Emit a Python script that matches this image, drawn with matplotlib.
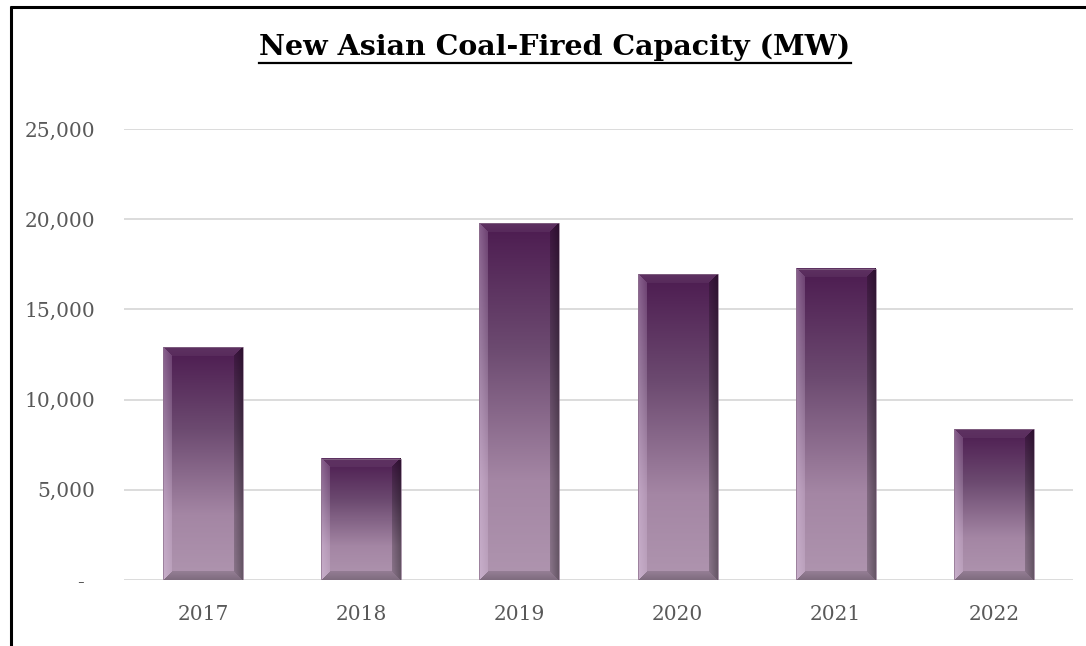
import numpy as np
import matplotlib
matplotlib.use("Agg")
import matplotlib.pyplot as plt
from matplotlib.lines import Line2D
from matplotlib.ticker import FixedLocator, FuncFormatter

# Data
years = ["2017", "2018", "2019", "2020", "2021", "2022"]
capacity_mw = [12900, 6720, 19780, 16950, 17260, 8370]
y_ticks = [0, 5000, 10000, 15000, 20000, 25000]
title = "New Asian Coal-Fired Capacity (MW)"

W, H, DPI = 1086, 646, 100
fig = plt.figure(figsize=(W / DPI, H / DPI), dpi=DPI)
fig.patch.set_facecolor("white")

ax = fig.add_axes([124 / W, 1 - 580 / H, (1073 - 124) / W, (580 - 129) / H])
ax.set_xlim(-0.5, len(years) - 0.5)
ax.set_ylim(0, 25000)
ax.set_facecolor("white")
for s in ax.spines.values():
    s.set_visible(False)

# Gridlines
for t in y_ticks:
    ax.axhline(t, color="#D9D9D9", lw=1.3, zorder=1)

ax.yaxis.set_major_locator(FixedLocator(y_ticks))
ax.yaxis.set_major_formatter(FuncFormatter(
    lambda v, p: "-\u2002" if v == 0 else f"{int(v):,}"))
ax.set_xticks(range(len(years)))
ax.set_xticklabels(years)
ax.tick_params(axis="y", length=0, pad=21, labelcolor="#595959", labelsize=14.5)
ax.tick_params(axis="x", length=0, pad=18, labelcolor="#595959", labelsize=14.5)
for lab in ax.get_xticklabels() + ax.get_yticklabels():
    lab.set_family("DejaVu Serif")

# Bevelled gradient bars
stops_t = np.array([0.0, 0.35, 0.72, 1.0])
stops_c = np.array([
    [0x4C, 0x1B, 0x50],
    [0x6C, 0x4A, 0x70],
    [0xA4, 0x86, 0xA4],
    [0xAF, 0x95, 0xAF],
]) / 255.0


def bar_image(wpx, hpx, bev):
    ts = (np.arange(hpx) + 0.5) / hpx
    base = np.stack([np.interp(ts, stops_t, stops_c[:, k]) for k in range(3)], axis=1)
    img = np.repeat(base[:, None, :], wpx, axis=1)
    I, J = np.meshgrid(np.arange(hpx) + 0.5, np.arange(wpx) + 0.5, indexing="ij")
    d = np.stack([J, wpx - J, I, hpx - I])
    side = np.argmin(d, axis=0)
    depth = d.min(axis=0)
    inside = depth < bev
    # soften the bevel towards its inner edge
    k = np.clip(1.0 - depth / bev, 0, 1) * 0.5 + 0.5
    tint = np.array([0.97, 0.88, 1.0])
    left = inside & (side == 0)
    right = inside & (side == 1)
    top = inside & (side == 2)
    bottom = inside & (side == 3)
    img[left] = img[left] + (tint - img[left]) * (0.36 * k[left])[:, None]
    img[right] = img[right] * (1 - 0.42 * k[right])[:, None]
    img[top] = img[top] + (1 - img[top]) * (0.10 * k[top])[:, None]
    img[bottom] = img[bottom] * (1 - 0.28 * k[bottom])[:, None]
    return np.clip(img, 0, 1)


bar_w = 0.505
fig.canvas.draw()
for i, v in enumerate(capacity_mw):
    x0, x1 = i - bar_w / 2, i + bar_w / 2
    p0 = ax.transData.transform((x0, 0))
    p1 = ax.transData.transform((x1, v))
    wpx = max(int(round(p1[0] - p0[0])), 4)
    hpx = max(int(round(p1[1] - p0[1])), 4)
    img = bar_image(wpx, hpx, 9)
    ax.imshow(img, extent=(x0, x1, 0, v), origin="upper", aspect="auto",
              interpolation="nearest", zorder=3)
    ax.add_patch(plt.Rectangle((x0, 0), bar_w, v, fill=False,
                               ec="#8C708C", lw=0.5, zorder=4))
ax.set_xlim(-0.5, len(years) - 0.5)
ax.set_ylim(0, 25000)

# Title with underline
ttl = fig.text(555 / W, 1 - 47 / H, title, ha="center", va="center",
               fontsize=20.5, fontweight="bold", family="DejaVu Serif", color="black")
fig.canvas.draw()
bb = ttl.get_window_extent(fig.canvas.get_renderer())
uy = 1 - 63 / H
fig.add_artist(Line2D([bb.x0 / W, bb.x1 / W], [uy, uy], color="black", lw=1.6,
                      transform=fig.transFigure))

# Outer frame (left and top edges)
fig.add_artist(Line2D([11 / W, 11 / W], [0, 1 - 5.5 / H], color="black", lw=2.2,
                      transform=fig.transFigure, solid_capstyle="butt"))
fig.add_artist(Line2D([10 / W, 1], [1 - 6.5 / H, 1 - 6.5 / H], color="black", lw=2.2,
                      transform=fig.transFigure, solid_capstyle="butt"))

fig.savefig("out.png", dpi=DPI)
